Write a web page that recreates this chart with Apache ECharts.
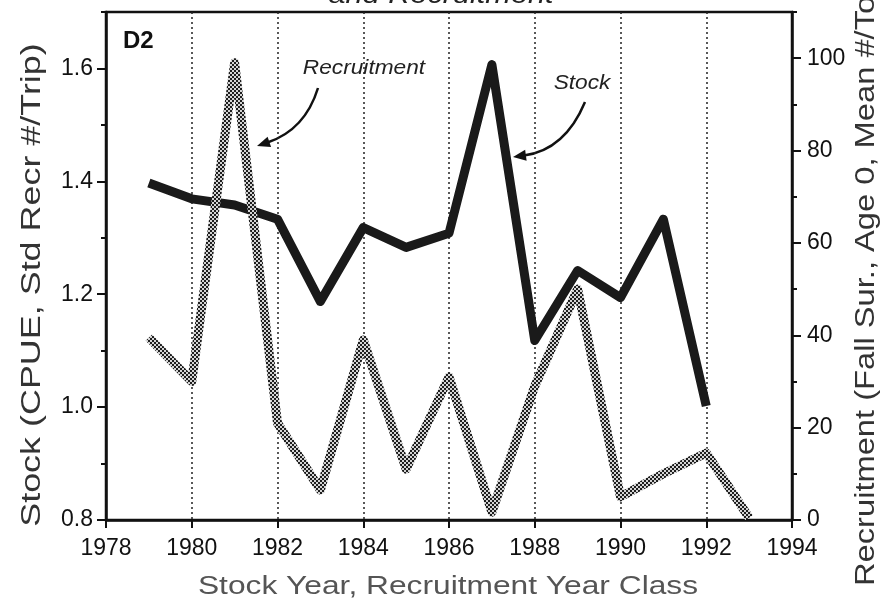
<!DOCTYPE html>
<html>
<head>
<meta charset="utf-8">
<script src="https://cdn.jsdelivr.net/npm/echarts@6/dist/echarts.min.js"></script>
<style>
  html, body { margin: 0; padding: 0; background: #fff; }
  #chart { width: 891px; height: 605px; }
</style>
</head>
<body>
<div id="chart"></div>
<script>
// data
var stockYears = [1979, 1980, 1981, 1982, 1983, 1984, 1985, 1986, 1987, 1988, 1989, 1990, 1991, 1992];
var stockValues = [1.397, 1.369, 1.358, 1.333, 1.187, 1.318, 1.283, 1.308, 1.607, 1.118, 1.242, 1.194, 1.333, 1.002];
var recruitYears = [1979, 1980, 1981, 1982, 1983, 1984, 1985, 1986, 1987, 1988, 1989, 1990, 1991, 1992, 1993];
var recruitValues = [39.5, 30, 99, 21, 6.5, 39, 11, 31, 1.7, 29, 50, 5, 10, 14.5, 0.5];

function pairs(xs, ys) {
  return xs.map(function (x, i) { return [x, ys[i]]; });
}

// checkered grey fill for the recruitment line
var pc = document.createElement("canvas");
pc.width = 4; pc.height = 4;
var pctx = pc.getContext("2d");
pctx.fillStyle = "#d4d4d4";
pctx.fillRect(0, 0, 4, 4);
pctx.fillStyle = "#1e1e1e";
pctx.fillRect(0, 0, 2, 2);
pctx.fillRect(2, 2, 2, 2);

// curved annotation arrow: start, control point, end
function arrow(x0, y0, cx, cy, x1, y1) {
  var dx = x1 - cx, dy = y1 - cy;
  var len = Math.sqrt(dx * dx + dy * dy);
  dx /= len; dy /= len;
  var hl = 13, hw = 5.5;
  var bx = x1 - dx * hl, by = y1 - dy * hl;
  return [
    {
      type: "bezierCurve",
      shape: { x1: x0, y1: y0, cpx1: cx, cpy1: cy, x2: bx + dx * 2, y2: by + dy * 2 },
      style: { stroke: "#111", lineWidth: 2.5, fill: null }
    },
    {
      type: "polygon",
      shape: { points: [[x1, y1], [bx - dy * hw, by + dx * hw], [bx + dy * hw, by - dx * hw]] },
      style: { fill: "#111" }
    }
  ];
}

var MyEcharts = echarts.init(document.getElementById("chart"));
var font = "Liberation Sans";

var option = {
  backgroundColor: "#fff",
  animation: false,
  grid: {
    left: 106, right: 99, top: 12, bottom: 85,
    show: true, borderColor: "#111", borderWidth: 2.5
  },
  xAxis: {
    type: "value", min: 1978, max: 1994, interval: 2,
    axisLine: { lineStyle: { color: "#111", width: 2.5 } },
    axisTick: { length: 8, lineStyle: { color: "#111", width: 2 } },
    axisLabel: {
      color: "#111", fontFamily: font, fontSize: 23, margin: 17,
      formatter: function (v) { return String(v); }
    },
    splitLine: { show: true, lineStyle: { color: "#222", width: 1.5, type: [2, 3] } }
  },
  yAxis: [
    {
      type: "value", position: "left", min: 0.8, max: 1.7, interval: 0.2,
      axisLine: { show: true, lineStyle: { color: "#111", width: 2.5 } },
      axisTick: { show: true, length: 9, lineStyle: { color: "#111", width: 2 } },
      axisLabel: {
        color: "#111", fontFamily: font, fontSize: 23, margin: 13, showMaxLabel: false,
        formatter: function (v) { return v.toFixed(1); }
      },
      splitLine: { show: false }
    },
    {
      type: "value", position: "right", min: 0, max: 110, interval: 20,
      axisLine: { show: true, lineStyle: { color: "#111", width: 2.5 } },
      axisTick: { show: true, length: 9, lineStyle: { color: "#111", width: 2 } },
      axisLabel: { color: "#111", fontFamily: font, fontSize: 23, margin: 15, showMaxLabel: false },
      splitLine: { show: false }
    },
    {
      // minor ticks left
      type: "value", position: "left", min: 0.8, max: 1.7, interval: 0.1,
      axisLine: { show: false },
      axisTick: { show: true, length: 5, lineStyle: { color: "#111", width: 2 } },
      axisLabel: { show: false },
      splitLine: { show: false }
    },
    {
      // minor ticks right
      type: "value", position: "right", min: 0, max: 110, interval: 10,
      axisLine: { show: false },
      axisTick: { show: true, length: 5, lineStyle: { color: "#111", width: 2 } },
      axisLabel: { show: false },
      splitLine: { show: false }
    }
  ],
  series: [
    {
      name: "Stock",
      type: "line",
      yAxisIndex: 0,
      data: pairs(stockYears, stockValues),
      showSymbol: false,
      lineStyle: { color: "#1a1a1a", width: 9, cap: "butt", join: "round" },
      z: 2
    },
    {
      name: "Recruitment",
      type: "line",
      yAxisIndex: 1,
      data: pairs(recruitYears, recruitValues),
      showSymbol: false,
      lineStyle: { color: { image: pc, repeat: "repeat" }, width: 9, cap: "butt", join: "round" },
      z: 3
    }
  ],
  graphic: [
    {
      type: "text", x: 441, y: 9,
      style: {
        text: "and Recruitment", fontFamily: font, fontStyle: "italic", fontSize: 26,
        fill: "#222", align: "center", verticalAlign: "bottom"
      },
      scaleX: 1.18
    },
    {
      type: "text", x: 123, y: 41,
      style: { text: "D2", fontFamily: font, fontWeight: "bold", fontSize: 24, fill: "#111", align: "left", verticalAlign: "middle" }
    },
    {
      type: "text", x: 364, y: 68,
      style: { text: "Recruitment", fontFamily: font, fontStyle: "italic", fontSize: 21, fill: "#222", align: "center", verticalAlign: "middle" },
      scaleX: 1.08
    },
    {
      type: "text", x: 582, y: 83,
      style: { text: "Stock", fontFamily: font, fontStyle: "italic", fontSize: 21, fill: "#222", align: "center", verticalAlign: "middle" },
      scaleX: 1.08
    },
    {
      type: "text", x: 448, y: 587,
      style: { text: "Stock Year, Recruitment Year Class", fontFamily: font, fontSize: 26, fill: "#555", align: "center", verticalAlign: "middle" },
      scaleX: 1.22
    },
    {
      type: "text", x: 33, y: 285, rotation: Math.PI / 2,
      style: { text: "Stock (CPUE, Std Recr #/Trip)", fontFamily: font, fontSize: 27, fill: "#333", align: "center", verticalAlign: "middle" },
      scaleX: 1.33
    },
    {
      type: "text", x: 867, y: 586, rotation: Math.PI / 2,
      style: { text: "Recruitment (Fall Sur., Age 0, Mean #/Tow)", fontFamily: font, fontSize: 27, fill: "#333", align: "left", verticalAlign: "middle" },
      scaleX: 1.21
    }
  ].concat(arrow(318, 88, 305, 130, 257, 146)).concat(arrow(585, 102, 565, 150, 513, 157))
};

if (MyEcharts) {
  MyEcharts.setOption(option);
}
window.addEventListener("resize", function () {
  MyEcharts.resize();
});
</script>
</body>
</html>
